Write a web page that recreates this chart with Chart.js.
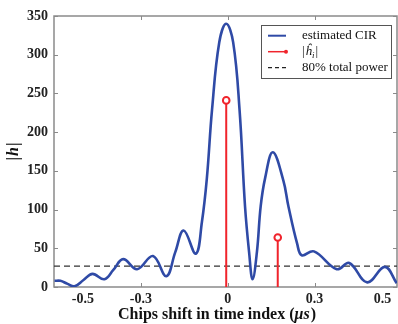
<!DOCTYPE html>
<html lang="en">
<head>
<meta charset="UTF-8">
<title>Estimated CIR</title>
<script src="https://cdn.jsdelivr.net/npm/chart.js@4.4.1/dist/chart.umd.min.js"></script>
<style>
  body { margin: 0; background: #fff; }
  canvas { display: block; }
</style>
</head>
<body>
<canvas id="cir" width="398" height="324"></canvas>
<script>
// estimated CIR (delay in us, |h|)
const cirX = [-0.598, -0.578, -0.553, -0.529, -0.498, -0.467, -0.426, -0.395, -0.361, -0.313,
              -0.258, -0.212, -0.181, -0.152, -0.110, -0.089, -0.072, -0.054, -0.029, -0.005,
               0.019,  0.041,  0.060,  0.074,  0.086,  0.101,  0.114,  0.129,  0.156,
               0.192,  0.210,  0.240,  0.256,  0.298,  0.377,  0.420,  0.482,  0.543, 0.584];
const cirY = [8, 8, 4, 1, 9, 17, 10, 22, 36, 23,
              40, 14, 45, 73, 43, 84, 140, 229, 316, 340,
              316, 229, 104, 45, 10, 45, 104, 140, 174,
              138, 104, 56, 41, 46, 23, 31, 6, 26, 5];

// detected paths |h_i|
const stemX = [-0.005, 0.173];
const stemY = [241, 64];

// 80% total power level
const powerLevel = 27;

const xTickValues = [-0.5, -0.3, 0, 0.3, 0.535];
const xTickLabels = ['-0.5', '-0.3', '0', '0.3', '0.5'];
const xMin = -0.6, xMax = 0.585;

const serif = "'Liberation Serif', 'Times New Roman', serif";
const blue = '#2f4aa6';
const red = '#f0242c';
const frameColor = '#8a8a8a';

const stemData = [];
stemX.forEach((x, i) => {
  stemData.push({x: x, y: 0}, {x: x, y: stemY[i]}, {x: x, y: null});
});

// draws a run of [text, font] pieces starting at x
function drawRuns(ctx, runs, x, y) {
  runs.forEach(r => {
    ctx.font = r[1];
    ctx.fillText(r[0], x, y + (r[2] || 0));
    x += ctx.measureText(r[0]).width + (r[3] || 0);
  });
}
function runsWidth(ctx, runs) {
  let w = 0;
  runs.forEach(r => { ctx.font = r[1]; w += ctx.measureText(r[0]).width + (r[3] || 0); });
  return w;
}

// frame, inward tick marks, axis titles and the legend box
const decorations = {
  id: 'decorations',
  beforeDatasetsDraw(chart) {
    const {ctx, chartArea: a, scales} = chart;
    ctx.save();
    ctx.strokeStyle = frameColor;
    ctx.lineWidth = 1.5;
    ctx.strokeRect(a.left, a.top, a.right - a.left, a.bottom - a.top);
    ctx.lineWidth = 1;
    scales.y.ticks.forEach(t => {
      const py = Math.round(scales.y.getPixelForValue(t.value)) + 0.5;
      ctx.beginPath();
      ctx.moveTo(a.left, py); ctx.lineTo(a.left + 4, py);
      ctx.moveTo(a.right, py); ctx.lineTo(a.right - 4, py);
      ctx.stroke();
    });
    scales.x.ticks.forEach(t => {
      if (Math.abs(t.value) > 0.4) return;
      const px = Math.round(scales.x.getPixelForValue(t.value)) + 0.5;
      ctx.beginPath();
      ctx.moveTo(px, a.top); ctx.lineTo(px, a.top + 4);
      ctx.moveTo(px, a.bottom); ctx.lineTo(px, a.bottom - 4);
      ctx.stroke();
    });

    // axis titles
    ctx.fillStyle = '#111';
    ctx.textBaseline = 'middle';
    ctx.textAlign = 'left';
    const bold = 'bold 16px ' + serif, boldIt = 'italic bold 16px ' + serif;
    const xRuns = [['Chips shift in time index (', bold], ['\u03bcs', boldIt, 0, 1], [')', bold]];
    drawRuns(ctx, xRuns, 217 - runsWidth(ctx, xRuns) / 2, 315);

    ctx.translate(14, (a.top + a.bottom) / 2);
    ctx.rotate(-Math.PI / 2);
    const yRuns = [['|', bold, 0, 1], ['h', boldIt, 0, 1], ['|', bold]];
    drawRuns(ctx, yRuns, -runsWidth(ctx, yRuns) / 2, 0);
    ctx.restore();
  },
  afterDraw(chart) {
    const ctx = chart.ctx;
    const bx = 261, by = 25, bw = 130, bh = 53;
    ctx.save();
    ctx.fillStyle = '#fff';
    ctx.fillRect(bx, by, bw, bh);
    ctx.strokeStyle = '#555';
    ctx.lineWidth = 1;
    ctx.strokeRect(bx + 0.5, by + 0.5, bw, bh);

    const rows = [35.7, 51.7, 67.7];
    const x0 = 268, x1 = 286, tx = 302;
    ctx.strokeStyle = blue; ctx.lineWidth = 2;
    ctx.beginPath(); ctx.moveTo(x0, rows[0]); ctx.lineTo(x1, rows[0]); ctx.stroke();
    ctx.strokeStyle = red; ctx.lineWidth = 1.5;
    ctx.beginPath(); ctx.moveTo(x0, rows[1]); ctx.lineTo(x1, rows[1]); ctx.stroke();
    ctx.fillStyle = red;
    ctx.beginPath(); ctx.arc(x1, rows[1], 2, 0, Math.PI * 2); ctx.fill();
    ctx.strokeStyle = '#222'; ctx.lineWidth = 1.2; ctx.setLineDash([4, 3]);
    ctx.beginPath(); ctx.moveTo(x0, rows[2]); ctx.lineTo(x1, rows[2]); ctx.stroke();
    ctx.setLineDash([]);

    ctx.fillStyle = '#111';
    ctx.textBaseline = 'middle';
    ctx.font = '13px ' + serif;
    ctx.fillText('estimated CIR', tx, rows[0]);
    ctx.fillText('80% total power', tx, rows[2]);
    const reg = '13px ' + serif, it = 'italic 13px ' + serif;
    drawRuns(ctx, [['|', reg, 0, 1], ['\u0125', it], ['i', 'italic 9px ' + serif, 4, 1], ['|', reg]], tx, rows[1]);
    ctx.restore();
  }
};

new Chart(document.getElementById('cir'), {
  type: 'line',
  data: {
    datasets: [
      {
        label: '|h_i|',
        data: stemData,
        borderColor: red,
        borderWidth: 2,
        tension: 0,
        spanGaps: false,
        pointRadius: c => (c.dataIndex % 3 === 1 ? 3.3 : 0),
        pointBorderWidth: 2,
        pointBorderColor: red,
        pointBackgroundColor: '#fff'
      },
      {
        label: 'estimated CIR',
        data: cirX.map((x, i) => ({x: x, y: cirY[i]})),
        borderColor: blue,
        borderWidth: 2.6,
        pointRadius: 0,
        tension: 0.4
      },
      {
        label: '80% total power',
        data: [{x: xMin, y: powerLevel}, {x: xMax, y: powerLevel}],
        borderColor: '#333',
        borderWidth: 1.3,
        borderDash: [6, 4],
        pointRadius: 0
      }
    ]
  },
  options: {
    responsive: false,
    animation: false,
    layout: { padding: { top: 16, right: 1, left: 0, bottom: 0 } },
    plugins: { legend: { display: false }, tooltip: { enabled: false } },
    scales: {
      x: {
        type: 'linear',
        min: xMin,
        max: xMax,
        grid: { display: false, drawTicks: false },
        border: { display: false },
        afterBuildTicks: s => { s.ticks = xTickValues.map(v => ({value: v})); },
        afterFit: s => { s.height = 37; },
        ticks: {
          autoSkip: false,
          maxRotation: 0,
          padding: 4,
          color: '#222',
          font: { family: serif, size: 14, weight: 'bold' },
          callback: (v, i) => xTickLabels[i]
        }
      },
      y: {
        min: 0,
        max: 350,
        grid: { display: false, drawTicks: false },
        border: { display: false },
        afterFit: s => { s.width = 54; },
        ticks: {
          stepSize: 50,
          padding: 6,
          color: '#222',
          font: { family: serif, size: 14, weight: 'bold' }
        }
      }
    }
  },
  plugins: [decorations]
});
</script>
</body>
</html>
